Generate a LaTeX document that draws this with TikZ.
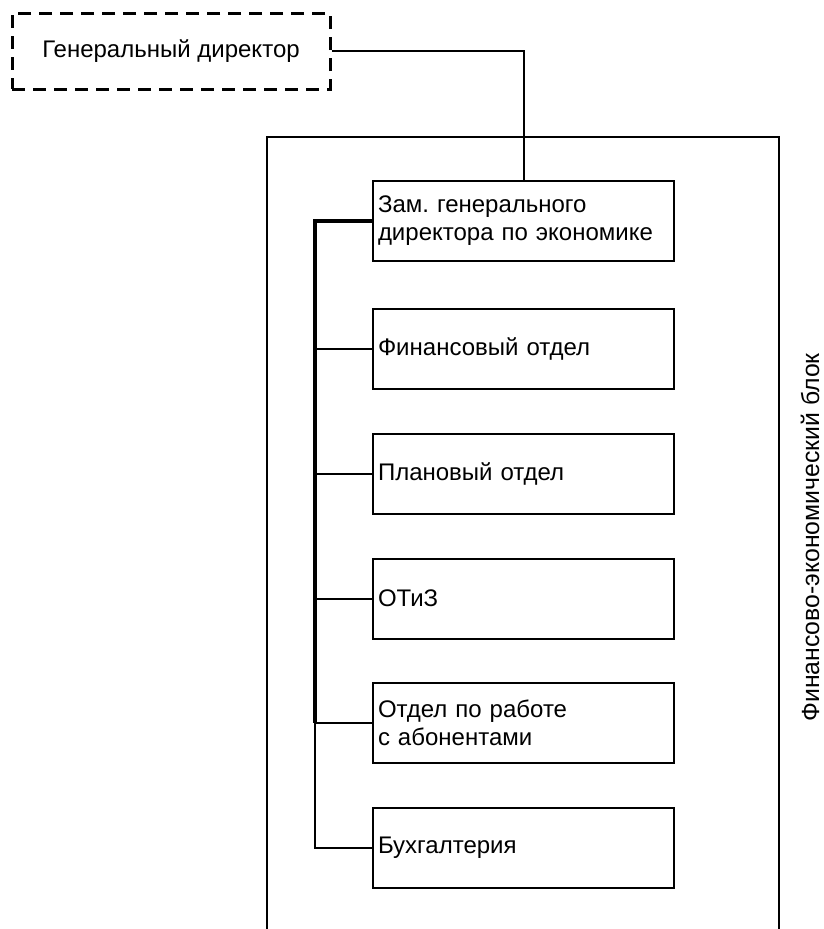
\documentclass[tikz,border=0pt]{standalone}
\usepackage{fontspec}
\setmainfont{Liberation Sans}
\frenchspacing
\begin{document}
\begin{tikzpicture}[x=1pt,y=-1pt,
  every node/.style={font=\fontsize{24}{28}\selectfont},
  unitbox/.style={draw, line width=2pt, minimum width=301pt, minimum height=80pt,
    text width=291pt, align=left, inner xsep=5pt, inner ysep=0pt},
  gdbox/.style={draw, line width=3pt, dash pattern=on 13pt off 8pt,
    minimum width=318pt, minimum height=76pt, inner sep=0pt},
  thinline/.style={line width=2pt},
  thickline/.style={line width=3.4pt}]
\useasboundingbox (0,0) rectangle (823,929);
% outer block (open at bottom)
\draw[thinline] (267,940) -- (267,137) -- (779,137) -- (779,940);
\node[rotate=90, font=\fontsize{24.8}{28}\selectfont] (lbl) at (810,537.5) {Финансово-экономический блок};
% nodes
\node[gdbox] (gd) at (171,51) {Генеральный директор};
\node[unitbox] (zam) at (523.5,221) {Зам. генерального\\директора по экономике};
\node[unitbox] (fin) at (523.5,348.5) {Финансовый отдел};
\node[unitbox] (plan) at (523.5,473.5) {Плановый отдел};
\node[unitbox] (otiz) at (523.5,598.5) {ОТиЗ};
\node[unitbox] (otd) at (523.5,723) {Отдел по работе\\с абонентами};
\node[unitbox] (buh) at (523.5,848) {Бухгалтерия};
% connectors
\draw[thinline] (gd.east) -| (zam.north);
\path (zam.west) ++(-57,0) coordinate (tz);
\coordinate (to) at (tz |- otd.west);
\coordinate (tb) at (tz |- buh.west);
\draw[thickline] (zam.west) -- (tz) -- (to);
\draw[thinline] (to) -- (tb) -- (buh.west);
\draw[thinline] (tz |- fin.west) -- (fin.west);
\draw[thinline] (tz |- plan.west) -- (plan.west);
\draw[thinline] (tz |- otiz.west) -- (otiz.west);
\draw[thinline] (to) -- (otd.west);
\end{tikzpicture}
\end{document}
